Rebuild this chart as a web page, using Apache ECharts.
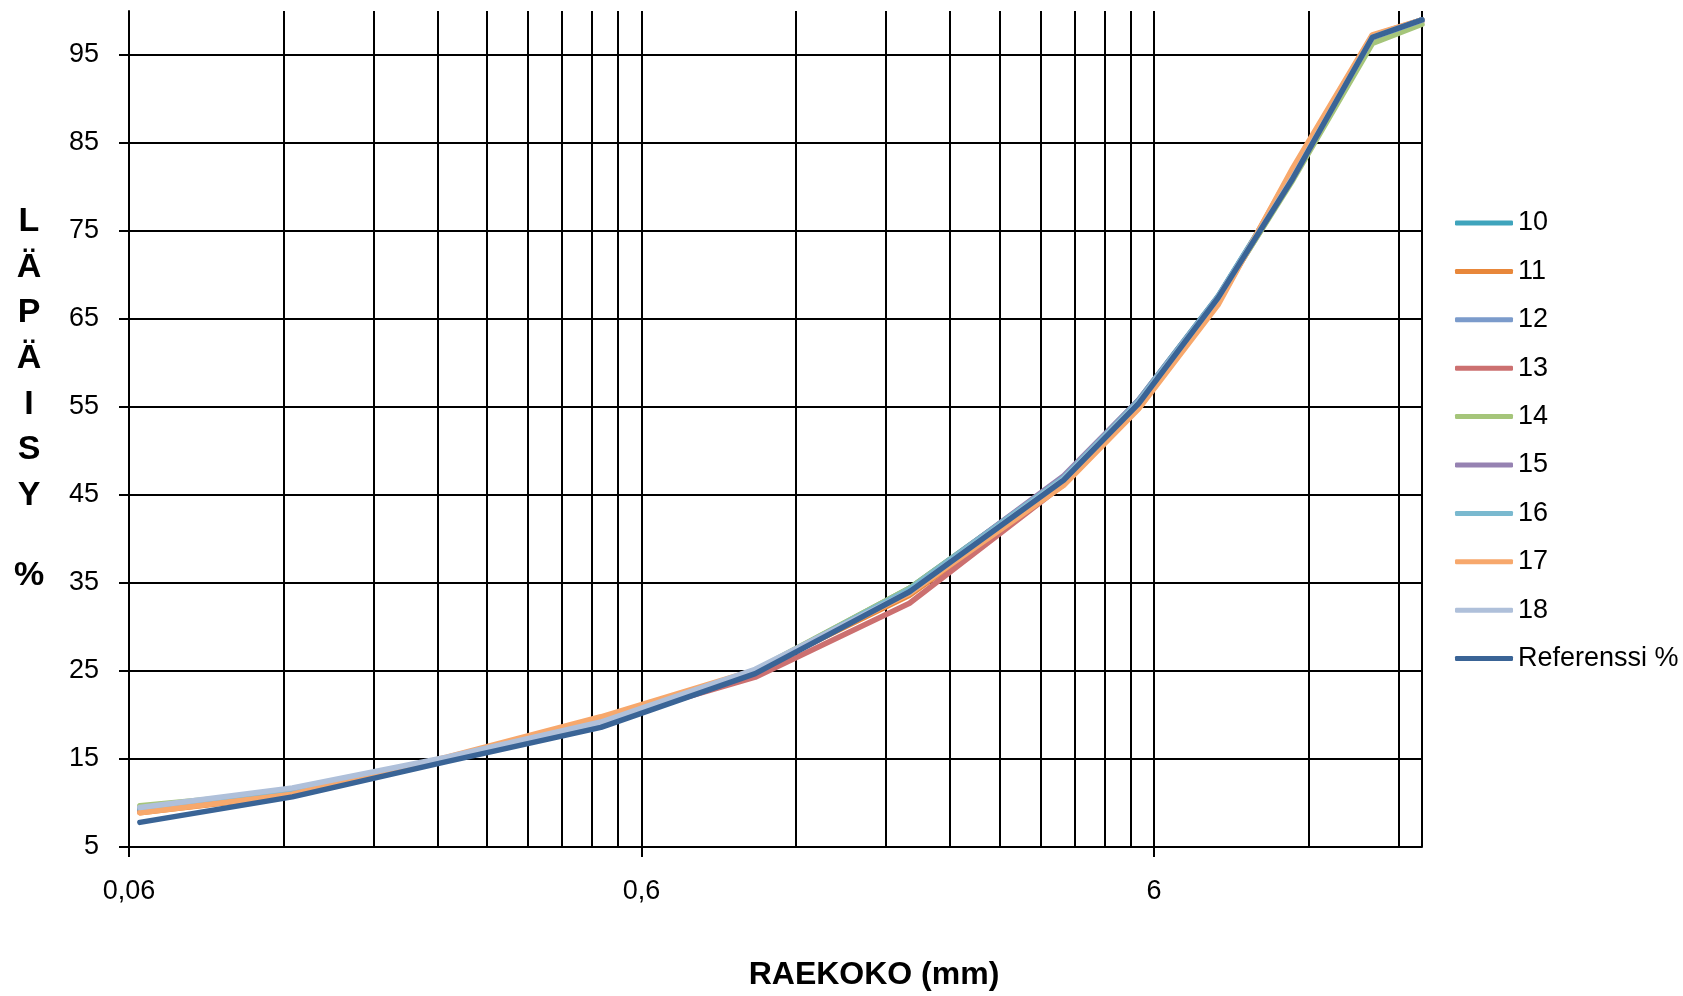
<!DOCTYPE html>
<html><head><meta charset="utf-8">
<script src="https://cdn.jsdelivr.net/npm/echarts@6/dist/echarts.min.js"></script>
<style>html,body{margin:0;padding:0;background:#fff}#c{width:1683px;height:996px}</style>
</head><body><div id="c"></div>
<script>
// ---- data ----
const sizes = [0.063, 0.125, 0.25, 0.5, 1, 2, 4, 5.6, 8, 11.2, 16, 20];
const s10  = [9.2, 11.0, 15.0, 19.0, 25.0, 34.4, 47.0, 55.8, 67.6, 81.3, 97.0, 99.0];
const s11  = [8.9, 10.9, 15.1, 19.6, 25.0, 33.6, 46.2, 54.9, 66.8, 82.0, 97.2, 99.0];
const s12  = [9.3, 11.1, 15.0, 19.1, 25.0, 34.0, 46.8, 55.6, 67.5, 81.2, 96.9, 98.9];
const s13  = [9.1, 10.9, 15.0, 19.2, 24.3, 32.7, 46.2, 55.2, 67.2, 81.0, 96.8, 98.9];
const s14  = [9.7, 11.3, 15.1, 19.0, 25.1, 34.4, 46.9, 55.7, 67.3, 80.8, 96.3, 98.5];
const s15  = [9.4, 11.2, 15.0, 19.0, 25.0, 34.2, 47.2, 55.8, 67.5, 81.1, 97.0, 99.0];
const s16  = [9.3, 11.1, 15.0, 19.1, 25.0, 34.3, 47.0, 55.7, 67.5, 81.2, 97.0, 99.0];
const s17  = [8.9, 11.0, 15.2, 19.8, 25.1, 33.8, 46.1, 54.8, 66.6, 82.2, 97.3, 99.0];
const s18  = [9.5, 11.7, 15.2, 19.2, 25.2, 34.0, 46.8, 55.5, 67.4, 81.1, 97.0, 99.0];
const sRef = [7.8, 10.7, 14.7, 18.6, 24.7, 34.0, 46.7, 55.4, 67.4, 81.0, 97.0, 99.0];
const seriesNames = ['10', '11', '12', '13', '14', '15', '16', '17', '18', 'Referenssi %'];
const seriesValues = [s10, s11, s12, s13, s14, s15, s16, s17, s18, sRef];
const yTicks = [5, 15, 25, 35, 45, 55, 65, 75, 85, 95];
const xMajorTicks = [0.06, 0.6, 6];
const xMin = 0.06, xMax = 20, yMin = 5, yMax = 100;

// ---- styles ----
const colors = ['#3FA4BC', '#E8873A', '#7B9BCB', '#CC7070', '#A5C57A', '#9682B2', '#7AB9CF', '#F7A86C', '#AFC0DA', '#3A6496'];
const FONT = "'Liberation Sans', Arial, sans-serif";

// minor grid positions (multiples of each major tick)
const xGrid = [];
xMajorTicks.forEach(m => {
  for (let k = 1; k <= 9; k++) {
    const v = Number((m * k).toPrecision(10));
    if (v <= xMax) xGrid.push(v);
  }
});
xGrid.push(xMax);

const fmtComma = v => String(Number((+v).toPrecision(6))).replace('.', ',');

const chart = echarts.init(document.getElementById('c'), null, {renderer: 'canvas'});
chart.setOption({
  animation: false,
  backgroundColor: '#fff',
  color: colors,
  grid: {left: 129, right: 261, top: 11, bottom: 149, containLabel: false},
  legend: {
    orient: 'vertical', left: 1450, top: 204,
    itemWidth: 58, itemHeight: 5, itemGap: 20.4, icon: 'roundRect',
    textStyle: {fontFamily: FONT, fontSize: 27, color: '#000', lineHeight: 28},
    data: seriesNames
  },
  xAxis: [{
    type: 'log', logBase: 10, min: xMin, max: xMax,
    axisLine: {show: false},
    axisTick: {show: false, customValues: xGrid},
    axisLabel: {show: false, customValues: xGrid},
    splitLine: {show: true, lineStyle: {color: '#000', width: 2}}
  }, {
    type: 'log', logBase: 10, min: xMin, max: xMax, position: 'bottom',
    axisLine: {show: true, onZero: false, lineStyle: {color: '#000', width: 2}},
    axisTick: {show: true, length: 10, customValues: xMajorTicks, lineStyle: {color: '#000', width: 2}},
    axisLabel: {show: true, customValues: xMajorTicks, margin: 31, fontFamily: FONT, fontSize: 27, color: '#000', formatter: fmtComma},
    splitLine: {show: false}
  }],
  yAxis: {
    type: 'value', min: yMin, max: yMax,
    axisLine: {show: true, lineStyle: {color: '#000', width: 2}},
    axisTick: {show: true, length: 10, customValues: yTicks, lineStyle: {color: '#000', width: 2}},
    axisLabel: {customValues: yTicks, margin: 30, fontFamily: FONT, fontSize: 27, color: '#000'},
    splitLine: {show: true, lineStyle: {color: '#000', width: 2}}
  },
  graphic: [
    {type: 'text', x: 29, y: 199, style: {text: 'L\nÄ\nP\nÄ\nI\nS\nY', font: "bold 34px 'Liberation Sans', Arial, sans-serif", fill: '#000', align: 'center', verticalAlign: 'top', lineHeight: 45.6}},
    {type: 'text', x: 29, y: 576, style: {text: '%', font: "bold 34px 'Liberation Sans', Arial, sans-serif", fill: '#000', align: 'center', verticalAlign: 'middle'}},
    {type: 'text', x: 874, y: 975, style: {text: 'RAEKOKO (mm)', font: "bold 32px 'Liberation Sans', Arial, sans-serif", fill: '#000', align: 'center', verticalAlign: 'middle'}}
  ],
  series: seriesNames.map((name, i) => ({
    name, type: 'line', xAxisIndex: 0,
    data: sizes.map((x, j) => [x, seriesValues[i][j]]),
    showSymbol: false, symbol: 'none', smooth: false,
    lineStyle: {width: 5.5, color: colors[i], join: 'round', cap: 'round'},
    itemStyle: {color: colors[i]},
    z: 2 + i
  }))
});
</script></body></html>
